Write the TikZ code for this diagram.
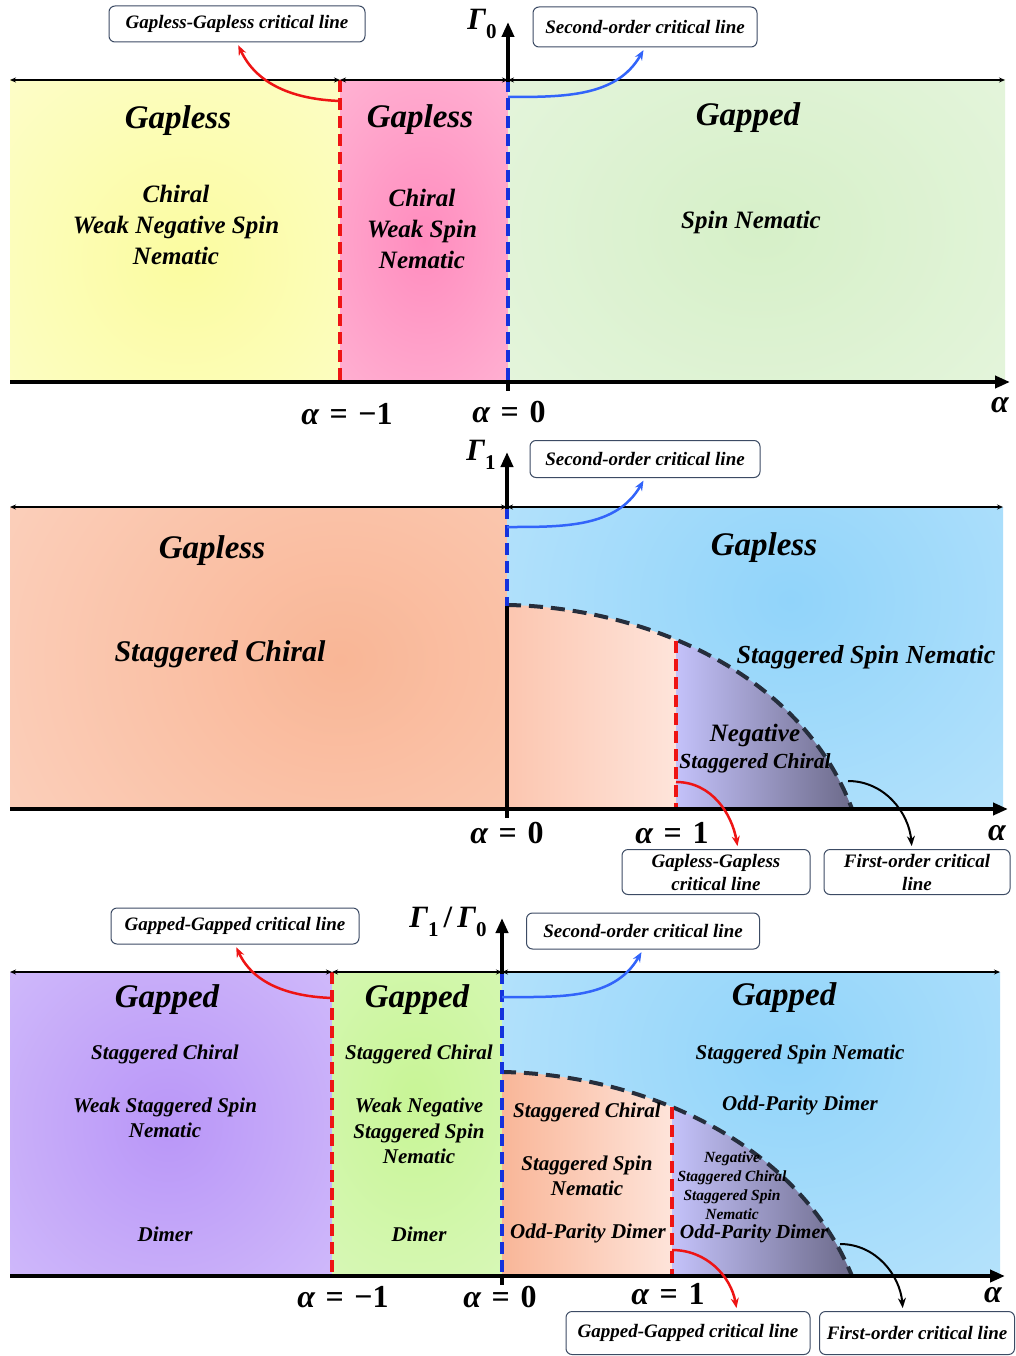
\documentclass[tikz,border=0pt]{standalone}
\usepackage{amsmath}
\usepackage[no-math]{fontspec}
\setmainfont{Liberation Serif}
\usetikzlibrary{arrows.meta}

\definecolor{yelC}{RGB}{251,252,160}\definecolor{yelE}{RGB}{254,254,225}
\definecolor{pinkC}{RGB}{255,140,190}\definecolor{pinkE}{RGB}{255,214,230}
\definecolor{grnC}{RGB}{214,240,200}\definecolor{grnE}{RGB}{240,248,236}
\definecolor{salC}{RGB}{249,182,150}\definecolor{salE}{RGB}{253,227,216}
\definecolor{bluC}{RGB}{145,212,250}\definecolor{bluE}{RGB}{216,240,252}
\definecolor{purC}{RGB}{185,150,248}\definecolor{purE}{RGB}{228,218,252}
\definecolor{lgrC}{RGB}{200,245,150}\definecolor{lgrE}{RGB}{228,250,210}
\definecolor{qsalL}{RGB}{252,198,176}\definecolor{qsalR}{RGB}{254,228,218}
\definecolor{qsalLb}{RGB}{249,182,152}
\definecolor{qpurL}{RGB}{196,194,250}\definecolor{qpurR}{RGB}{108,106,138}
\definecolor{redc}{RGB}{238,20,20}\definecolor{bluec}{RGB}{20,50,220}
\definecolor{arrb}{RGB}{50,100,250}\definecolor{darkc}{RGB}{38,46,60}
\definecolor{boxc}{RGB}{60,75,100}

\pgfdeclareradialshading{gyel}{\pgfpoint{0bp}{0bp}}{color(0bp)=(yelC); color(45bp)=(yelE); color(72bp)=(yelE)}
\pgfdeclareradialshading{gpink}{\pgfpoint{0bp}{0bp}}{color(0bp)=(pinkC); color(45bp)=(pinkE); color(72bp)=(pinkE)}
\pgfdeclareradialshading{ggrn}{\pgfpoint{0bp}{0bp}}{color(0bp)=(grnC); color(45bp)=(grnE); color(72bp)=(grnE)}
\pgfdeclareradialshading{gsal}{\pgfpoint{0bp}{0bp}}{color(0bp)=(salC); color(45bp)=(salE); color(72bp)=(salE)}
\pgfdeclareradialshading{gblu}{\pgfpoint{0bp}{0bp}}{color(0bp)=(bluC); color(45bp)=(bluE); color(72bp)=(bluE)}
\pgfdeclareradialshading{gpur}{\pgfpoint{0bp}{0bp}}{color(0bp)=(purC); color(45bp)=(purE); color(72bp)=(purE)}
\pgfdeclareradialshading{glgr}{\pgfpoint{0bp}{0bp}}{color(0bp)=(lgrC); color(45bp)=(lgrE); color(72bp)=(lgrE)}

\newcommand\myglow[9]{\begin{scope}\clip (#2,#3) rectangle (#4,#5);
  \shade[shading=#1] (#6-#8,#7-#9) rectangle (#6+#8,#7+#9);\end{scope}}
\newcommand\bi{\bfseries\itshape}
\newcommand\myal{{\bi α}}
\newcommand\myeq{\hspace{0.33em}=\hspace{0.33em}}
\newcommand\mysub[1]{\raisebox{-0.28em}{\fontsize{21}{21}\selectfont\bfseries #1}}
\newcommand\myGam[1]{{\bi Γ}\mysub{#1}}

\tikzset{
  head/.style={font=\bi\fontsize{33}{35}\selectfont},
  subl/.style={font=\bi\fontsize{25}{31}\selectfont, align=center},
  subm/.style={font=\bi\fontsize{21}{25.5}\selectfont, align=center},
  subs/.style={font=\bi\fontsize{15.5}{19}\selectfont, align=center},
  box/.style={draw=boxc, line width=1pt, rounded corners=6pt, fill=white,
    font=\bi\fontsize{19}{23}\selectfont, align=center, inner sep=0pt},
  mlab/.style={font=\bfseries\fontsize{32}{34}\selectfont, inner sep=0pt},
  glab/.style={font=\bfseries\fontsize{31}{33}\selectfont, inner sep=0pt},
  axis/.style={line width=4pt, -{Triangle[length=15pt,width=12pt]}},
  tick/.style={line width=4pt},
  tline/.style={line width=1.2pt, {Stealth[length=6pt,width=5pt]}-{Stealth[length=6pt,width=5pt]}},
  rdash/.style={draw=redc, line width=3.5pt, dash pattern=on 12pt off 6pt},
  bdash/.style={draw=bluec, line width=3.5pt, dash pattern=on 12pt off 6pt},
  kdash/.style={draw=darkc, line width=4pt, dash pattern=on 14pt off 8pt},
  rarr/.style={draw=redc, line width=2.5pt, -{Stealth[length=10pt,width=8pt]}, shorten >=3pt},
  barr/.style={draw=arrb, line width=2.5pt, -{Stealth[length=10pt,width=8pt]}, shorten >=3pt},
  karr/.style={draw=black, line width=2pt, -{Stealth[length=10pt,width=8pt]}, shorten >=3pt},
}

\begin{document}
\begin{tikzpicture}[x=1pt,y=-1pt]
\useasboundingbox (0,0) rectangle (1016,1356);
\fill[white] (0,0) rectangle (1016,1356);

%%%%%%%%%%%%%%%% PANEL 1
\myglow{gyel}{10}{80}{340}{382}{185}{260}{230}{230}
\myglow{gpink}{340}{80}{508}{382}{424}{240}{150}{220}
\myglow{ggrn}{508}{80}{1005}{382}{760}{230}{330}{260}
\draw[rdash] (340,80) -- (340,382);
\draw[bdash] (508,80) -- (508,382);
\draw[axis] (10,382) -- (1010,382);
\draw[tick] (508,382) -- (508,391);
\draw[axis] (508,82) -- (508,22);
\draw[tline] (10,80) -- (340,80);
\draw[tline] (340,80) -- (508,80);
\draw[tline] (508,80) -- (1005,80);

\node[glab] (g0) at (482,24) {\myGam{0}};
\node[mlab] (am1a) at (347,414) {\myal\myeq−1};
\node[mlab] (a0a) at (509,412) {\myal\myeq0};
\node[mlab] (aa) at (1000,405) {\myal};

\node[head] (h1) at (178,121) {Gapless};
\node[subl] (s1) at (176,225) {Chiral\\Weak Negative Spin\\Nematic};
\node[head] (h2) at (420,120) {Gapless};
\node[subl] (s2) at (422,229) {Chiral\\Weak Spin\\Nematic};
\node[head] (h3) at (748,118) {Gapped};
\node[subl] (s3) at (751,222) {Spin Nematic};

\node[box, minimum width=256pt, minimum height=36pt] (b1) at (237,24) {Gapless-Gapless critical line};
\node[box, minimum width=224pt, minimum height=40pt] (b2) at (645,27) {Second-order critical line};
\coordinate (c1) at (340,101);
\coordinate (c2) at (508,97);
\draw[rarr] (c1) to[out=178,in=-65] (b1.south);
\draw[barr] (c2) to[out=0,in=-120] (b2.south);

%%%%%%%%%%%%%%%% PANEL 2
\myglow{gsal}{10}{507}{507}{809}{340}{660}{380}{330}
\myglow{gblu}{507}{507}{1003}{809}{790}{600}{360}{320}
\begin{scope}
\clip (507,809) -- (507,605) .. controls (640,607) and (800,670) .. (852,809) -- cycle;
\shade[left color=qsalL, right color=qsalR] (507,600) rectangle (676,812);
\shade[left color=qpurL, right color=qpurR] (676,600) rectangle (852,812);
\end{scope}
\draw[kdash] (507,605) .. controls (640,607) and (800,670) .. (852,809);
\draw[rdash] (676,641) -- (676,809);
\draw[tick] (507,818) -- (507,606);
\draw[bdash] (507,507) -- (507,606);
\draw[axis] (10,809) -- (1008,809);
\draw[axis] (507,509) -- (507,452);
\draw[tline] (10,507) -- (507,507);
\draw[tline] (507,507) -- (1003,507);

\node[glab] (g1) at (481,455) {\myGam{1}};
\node[mlab] (a0b) at (507,833) {\myal\myeq0};
\node[mlab] (a1b) at (672,833) {\myal\myeq1};
\node[mlab] (ab) at (997,833) {\myal};

\node[head] (h4) at (212,551) {Gapless};
\node[head, font=\bi\fontsize{30}{32}\selectfont] (s4) at (220,654) {Staggered Chiral};
\node[head] (h5) at (764,548) {Gapless};
\node[subl, font=\bi\fontsize{26}{30}\selectfont] (s5) at (866,657) {Staggered Spin Nematic};
\node[subl] (s6) at (755,735) {Negative};
\node[subm, font=\bi\fontsize{21.5}{26}\selectfont] (s7) at (755,763) {Staggered Chiral};

\node[box, minimum width=230pt, minimum height=37pt] (b3) at (645,459) {Second-order critical line};
\node[box, minimum width=188pt, minimum height=45pt] (b4) at (716,872) {Gapless-Gapless\\critical line};
\node[box, minimum width=186pt, minimum height=45pt] (b5) at (917,872) {First-order critical\\line};
\coordinate (c3) at (507,527);
\coordinate (c4) at (676,782);
\coordinate (c5) at (848,781);
\draw[barr] (c3) to[out=0,in=-120] (b3.south);
\draw[rarr] (c4) to[out=0,in=100] ([xshift=22pt]b4.north);
\draw[karr] (c5) to[out=0,in=95] ([xshift=-5pt]b5.north);

%%%%%%%%%%%%%%%% PANEL 3
\myglow{gpur}{10}{972}{332}{1276}{168}{1125}{240}{250}
\myglow{glgr}{332}{972}{502}{1276}{415}{1100}{160}{220}
\myglow{gblu}{502}{972}{1000}{1276}{790}{1055}{360}{320}
\begin{scope}
\clip (502,1276) -- (502,1072) .. controls (635,1074) and (795,1137) .. (852,1276) -- cycle;
\shade[left color=qsalLb, right color=qsalR] (502,1065) rectangle (672,1280);
\shade[left color=qpurL, right color=qpurR] (672,1065) rectangle (852,1280);
\end{scope}
\draw[kdash] (502,1072) .. controls (635,1074) and (795,1137) .. (852,1276);
\draw[rdash] (332,972) -- (332,1276);
\draw[rdash] (672,1107) -- (672,1276);
\draw[bdash] (502,972) -- (502,1276);
\draw[axis] (10,1276) -- (1005,1276);
\draw[tick] (502,1276) -- (502,1285);
\draw[axis] (502,974) -- (502,918);
\draw[tline] (10,972) -- (332,972);
\draw[tline] (332,972) -- (502,972);
\draw[tline] (502,972) -- (1000,972);

\node[glab] (g2) at (448,922) {\myGam{1}\,/\,\myGam{0}};
\node[mlab] (am1c) at (343,1297) {\myal\myeq−1};
\node[mlab] (a0c) at (500,1297) {\myal\myeq0};
\node[mlab] (a1c) at (668,1294) {\myal\myeq1};
\node[mlab] (ac) at (993,1295) {\myal};

\node[head] (h6) at (167,1000) {Gapped};
\node[subm] (s8) at (165,1054) {Staggered Chiral};
\node[subm] (s9) at (165,1118) {Weak Staggered Spin\\Nematic};
\node[subm] (s10) at (165,1234) {Dimer};
\node[head] (h7) at (417,1000) {Gapped};
\node[subm] (s11) at (419,1054) {Staggered Chiral};
\node[subm] (s12) at (419,1131) {Weak Negative\\Staggered Spin\\Nematic};
\node[subm] (s13) at (419,1234) {Dimer};
\node[head] (h8) at (784,998) {Gapped};
\node[subm] (s14) at (800,1054) {Staggered Spin Nematic};
\node[subm] (s15) at (800,1105) {Odd-Parity Dimer};
\node[subm] (s16) at (587,1112) {Staggered Chiral};
\node[subm] (s17) at (587,1176) {Staggered Spin\\Nematic};
\node[subm] (s18) at (588,1233) {Odd-Parity Dimer};
\node[subs] (s19) at (732,1186) {Negative\\Staggered Chiral\\Staggered Spin\\Nematic};
\node[subm, font=\bi\fontsize{20}{24}\selectfont] (s20) at (754,1234) {Odd-Parity Dimer};

\node[box, minimum width=248pt, minimum height=36pt] (b6) at (235,926) {Gapped-Gapped critical line};
\node[box, minimum width=233pt, minimum height=36pt] (b7) at (643,931) {Second-order critical line};
\node[box, minimum width=244pt, minimum height=43pt] (b8) at (688,1333) {Gapped-Gapped critical line};
\node[box, minimum width=195pt, minimum height=43pt] (b9) at (917,1333) {First-order critical line};
\coordinate (c6) at (332,998);
\coordinate (c7) at (502,997);
\coordinate (c8) at (672,1250);
\coordinate (c9) at (840,1244);
\draw[rarr] (c6) to[out=178,in=-65] (b6.south);
\draw[barr] (c7) to[out=0,in=-120] (b7.south);
\draw[rarr] (c8) to[out=0,in=100] ([xshift=49pt]b8.north);
\draw[karr] (c9) to[out=0,in=95] ([xshift=-14pt]b9.north);
\end{tikzpicture}
\end{document}
